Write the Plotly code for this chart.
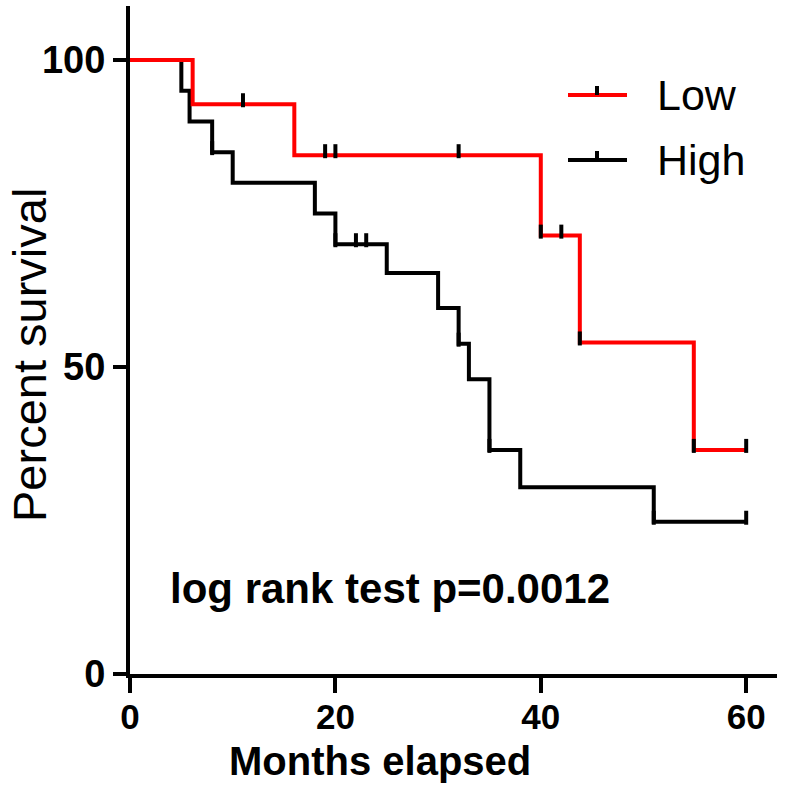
import numpy as np
import plotly.graph_objects as go

# ---- data ----
low_months = [0, 6.1, 16, 40, 43.8, 54.9, 60]
low_survival = [100, 92.8, 84.5, 71.4, 54.0, 36.5, 36.5]
low_censored = [11, 19, 20, 32, 40, 42, 43.8, 54.9, 60]

high_months = [0, 5, 5.8, 8, 10, 18, 20, 25, 30, 32, 33, 35, 38, 51, 60]
high_survival = [100, 95, 90, 85, 80, 75, 70, 65.3, 59.6, 53.8, 48.0, 36.5, 30.4, 24.8, 24.8]
high_censored = [8, 20, 22, 23, 32, 35, 51, 60]

x_ticks = [0, 20, 40, 60]
y_ticks = [0, 50, 100]
group_names = ["Low", "High"]
x_title = "Months elapsed"
y_title = "Percent survival"
annotation_text = "log rank test p=0.0012"

# ---- layout geometry ----
W, H = 787, 812
L, R, T, B = 130, 10, 6, 138
X_RANGE = [0, 63.0]
Y_RANGE = [0, 108.8]
plot_w = W - L - R
plot_h = H - T - B
px_per_y = plot_h / (Y_RANGE[1] - Y_RANGE[0])

def step_value(times, surv, t):
    idx = np.searchsorted(np.array(times), t, side="right") - 1
    return surv[idx]

def px_to_paper(px, py):
    return (px - L) / plot_w, (H - B - py) / plot_h

FONT = "Liberation Sans, Arial, sans-serif"
RED = "#FF0000"
BLACK = "#000000"

fig = go.Figure()

for months, surv, color in [(high_months, high_survival, BLACK), (low_months, low_survival, RED)]:
    fig.add_trace(go.Scatter(x=months, y=surv, mode="lines", line=dict(color=color, width=4, shape="hv"),
                             showlegend=False, hoverinfo="skip"))

tick_offset = 4 / px_per_y
for months, surv, cens in [(low_months, low_survival, low_censored), (high_months, high_survival, high_censored)]:
    cy = [step_value(months, surv, t) + tick_offset for t in cens]
    fig.add_trace(go.Scatter(x=cens, y=cy, mode="markers",
                             marker=dict(symbol="line-ns", size=10, line=dict(color=BLACK, width=4)),
                             showlegend=False, hoverinfo="skip", cliponaxis=False))

# ---- manual legend ----
shapes = []
annotations = []
for name, color, py in [(group_names[0], RED, 95), (group_names[1], BLACK, 160)]:
    x0, y0 = px_to_paper(568, py)
    x1, _ = px_to_paper(627, py)
    xm, ytop = px_to_paper(597, py - 9)
    shapes.append(dict(type="line", xref="paper", yref="paper", x0=x0, x1=x1, y0=y0, y1=y0,
                       line=dict(color=color, width=4)))
    shapes.append(dict(type="line", xref="paper", yref="paper", x0=xm, x1=xm, y0=y0, y1=ytop,
                       line=dict(color=BLACK, width=4)))
    tx, ty = px_to_paper(655, py)
    annotations.append(dict(text=name, xref="paper", yref="paper", x=tx, y=ty, xanchor="left",
                            yanchor="middle", showarrow=False,
                            font=dict(family=FONT, size=43, color=BLACK)))

ax, ay = px_to_paper(390, 588)
annotations.append(dict(text=annotation_text, xref="paper", yref="paper", x=ax, y=ay,
                        xanchor="center", yanchor="middle", showarrow=False,
                        font=dict(family=FONT, size=42, color=BLACK, weight="bold")))

# axis titles
tx, ty = px_to_paper(380, 761)
annotations.append(dict(text=x_title, xref="paper", yref="paper", x=tx, y=ty,
                        xanchor="center", yanchor="middle", showarrow=False,
                        font=dict(family=FONT, size=40, color=BLACK, weight="bold")))
tx, ty = px_to_paper(29, 355)
annotations.append(dict(text=y_title, xref="paper", yref="paper", x=tx, y=ty, textangle=-90,
                        xanchor="center", yanchor="middle", showarrow=False,
                        font=dict(family=FONT, size=47, color=BLACK)))

fig.update_layout(
    width=W, height=H,
    margin=dict(l=L, r=R, t=T, b=B, pad=0, autoexpand=False),
    paper_bgcolor="white", plot_bgcolor="white",
    showlegend=False,
    shapes=shapes, annotations=annotations,
    xaxis=dict(range=X_RANGE, tickvals=x_ticks, ticktext=[str(v) for v in x_ticks],
               showline=True, linewidth=4, linecolor=BLACK, ticks="outside", ticklen=15,
               tickwidth=4, tickcolor=BLACK, showgrid=False, zeroline=False, automargin=False,
               ticklabelstandoff=-6,
               tickfont=dict(family=FONT, size=35, color=BLACK, weight="bold")),
    yaxis=dict(range=Y_RANGE, tickvals=y_ticks, ticktext=[str(v) for v in y_ticks],
               showline=True, linewidth=4, linecolor=BLACK, ticks="outside", ticklen=13,
               tickwidth=4, tickcolor=BLACK, showgrid=False, zeroline=False, automargin=False,
               tickfont=dict(family=FONT, size=38, color=BLACK, weight="bold")),
)

fig.write_html("out.html", config={"displayModeBar": False},
               post_script="document.body.style.margin='0px';")
